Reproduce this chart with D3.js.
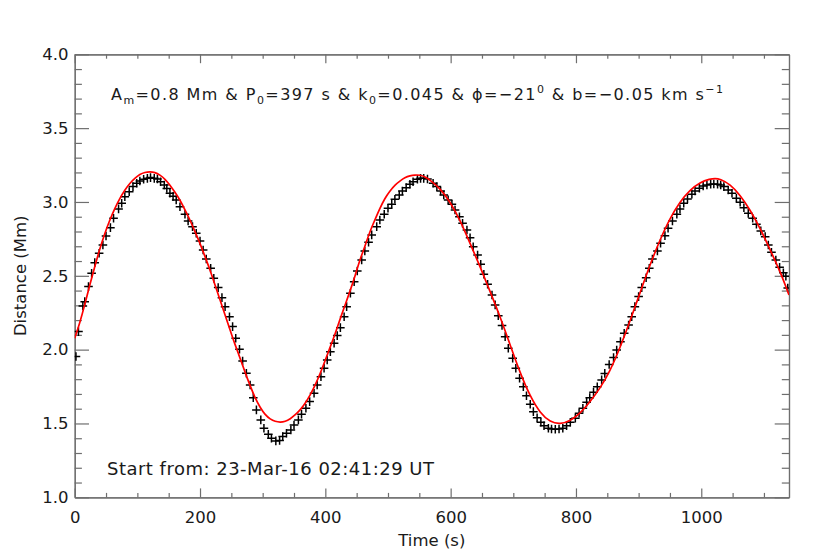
<!DOCTYPE html>
<html><head><meta charset="utf-8">
<script src="https://cdn.jsdelivr.net/npm/d3@7"></script>
<style>
body{margin:0;background:#fff}
svg{display:block}
text{font-family:"DejaVu Sans",sans-serif;fill:#1a1a1a}
</style>
</head><body>
<svg id="chart" width="830" height="553"></svg>
<script>
// ---- data ----
const time = [2,6,13,16,22,27,32,39,45,50,57,62,70,75,80,87,93,99,104,110,116,121,127,132,137,143,147,152,157,162,168,176,181,188,194,200,205,210,217,222,229,235,240,247,252,257,263,268,274,
280,285,290,297,302,309,314,321,327,332,338,345,350,357,362,369,375,382,387,393,398,403,408,414,419,424,430,434,440,446,451,458,463,469,474,482,487,494,500,506,511,518,523,529,535,540,547,552,557,563,
572,578,584,589,596,602,607,614,619,626,631,636,643,648,653,659,666,671,676,682,687,692,699,704,710,716,721,727,732,738,744,749,756,761,767,773,779,785,791,799,805,811,817,822,828,834,841,846,853,
860,865,871,877,884,889,894,900,905,912,917,922,930,935,942,947,954,961,966,972,978,985,990,997,1003,1009,1015,1020,1026,1031,1036,1043,1049,1056,1062,1068,1075,1082,1088,1095,1102,1107,1112,1119,1125,1131,1135,1138];
const distance = [1.953,2.122,2.296,2.325,2.427,2.517,2.589,2.653,2.709,2.770,2.826,2.890,2.953,2.991,3.036,3.070,3.104,3.127,3.142,3.154,3.160,3.165,3.160,3.156,3.137,3.115,3.092,3.059,3.038,3.014,2.968,2.917,2.871,2.833,2.788,2.736,2.675,2.614,2.551,2.483,2.420,2.352,2.291,2.223,2.156,2.077,2.003,1.923,1.840,
1.761,1.675,1.592,1.524,1.468,1.427,1.400,1.382,1.385,1.411,1.434,1.456,1.490,1.524,1.563,1.603,1.648,1.705,1.761,1.817,1.874,1.930,1.986,2.043,2.095,2.149,2.223,2.291,2.382,2.460,2.533,2.607,2.668,2.727,2.777,2.833,2.878,2.917,2.957,2.984,3.018,3.047,3.074,3.097,3.120,3.137,3.154,3.160,3.160,3.156,
3.127,3.104,3.074,3.047,3.014,2.984,2.946,2.900,2.856,2.810,2.758,2.697,2.641,2.578,2.510,2.443,2.370,2.303,2.230,2.163,2.088,2.009,1.942,1.874,1.806,1.749,1.688,1.630,1.580,1.539,1.508,1.485,1.468,1.463,1.461,1.463,1.468,1.485,1.508,1.536,1.570,1.603,1.644,1.675,1.712,1.749,1.795,1.839,1.899,
1.946,1.998,2.054,2.111,2.167,2.223,2.291,2.359,2.420,2.487,2.551,2.614,2.668,2.720,2.772,2.822,2.871,2.917,2.953,2.991,3.020,3.052,3.074,3.093,3.108,3.115,3.120,3.122,3.120,3.115,3.104,3.081,3.059,3.025,2.998,2.961,2.923,2.890,2.849,2.804,2.765,2.709,2.659,2.607,2.558,2.520,2.497,2.417];

const fitTime = [0,8,16,24,32,40,48,56,64,72,80,88,96,104,112,120,128,136,144,152,160,168,176,184,192,200,208,216,224,232,240,248,256,264,272,280,288,296,304,312,320,328,336,344,352,360,368,376,384,392,400,408,416,424,432,440,448,455,463,471,479,487,495,503,511,519,527,535,543,551,559,567,583,599,615,631,647,663,679,695,711,727,743,759,775,791,807,822,838,854,870,886,902,918,934,950,966,982,998,1014,1022,1030,1046,1062,1078,1094,1110,1126,1140];
const fitDistance = [2.077,2.179,2.303,2.438,2.562,2.682,2.788,2.878,2.957,3.025,3.081,3.127,3.160,3.188,3.201,3.205,3.201,3.183,3.156,3.115,3.066,3.014,2.946,2.878,2.799,2.720,2.630,2.540,2.438,2.336,2.235,2.133,2.032,1.942,1.845,1.755,1.671,1.607,1.558,1.529,1.513,1.508,1.513,1.531,1.558,1.592,1.637,1.693,1.761,1.840,1.930,2.020,2.111,2.213,2.307,2.404,2.506,2.607,2.697,2.799,2.878,2.957,3.025,3.074,3.115,3.142,3.165,3.178,3.183,3.183,3.171,3.149,3.093,3.002,2.878,2.720,2.562,2.393,2.223,2.032,1.840,1.682,1.569,1.508,1.495,1.517,1.569,1.644,1.735,1.851,2.009,2.190,2.382,2.573,2.743,2.890,3.002,3.081,3.133,3.156,3.160,3.156,3.120,3.047,2.946,2.822,2.675,2.528,2.370];

const xTicks = [0,200,400,600,800,1000];
const xMinorTicks = [50,100,150,250,300,350,450,500,550,650,700,750,850,900,950,1050,1100];
const yTicks = [1.0,1.5,2.0,2.5,3.0,3.5,4.0];
const yMinorTicks = [1.1,1.2,1.3,1.4,1.6,1.7,1.8,1.9,2.1,2.2,2.3,2.4,2.6,2.7,2.8,2.9,3.1,3.2,3.3,3.4,3.6,3.7,3.8,3.9];
const xDomain = [0,1140];
const yDomain = [1,4];
const xLabel = "Time (s)";
const yLabel = "Distance (Mm)";
const startLabel = "Start from: 23-Mar-16 02:41:29 UT";

// ---- layout ----
const L = 74.7, R = 789, T = 54.3, B = 497.3;
const svg = d3.select("#chart");
const x = d3.scaleLinear().domain(xDomain).range([L, R]);
const y = d3.scaleLinear().domain(yDomain).range([B, T]);
const axisColor = "#6e6e6e";
const xMaj = 8.9, xMin = 4.4, yMaj = 14.3, yMin = 7.2;

svg.append("defs").append("clipPath").attr("id","plotclip")
  .append("rect").attr("x",L).attr("y",T).attr("width",R-L).attr("height",B-T);

function styleAxis(g){
  g.selectAll("path.domain").attr("stroke",axisColor).attr("stroke-width",1.2);
  g.selectAll(".tick line").attr("stroke",axisColor).attr("stroke-width",1.2);
  g.selectAll(".tick text").attr("fill","#1a1a1a").style("font-size","16.5px").style("font-family","'DejaVu Sans',sans-serif");
}

// bottom
svg.append("g").attr("transform",`translate(0,${B})`)
  .call(d3.axisBottom(x).tickValues(xTicks).tickSizeInner(-xMaj).tickSizeOuter(0).tickPadding(13.5).tickFormat(d3.format("d"))).call(styleAxis);
svg.append("g").attr("transform",`translate(0,${B})`)
  .call(d3.axisBottom(x).tickValues(xMinorTicks).tickSizeInner(-xMin).tickSizeOuter(0).tickFormat("")).call(styleAxis);
// top
svg.append("g").attr("transform",`translate(0,${T})`)
  .call(d3.axisTop(x).tickValues(xTicks).tickSizeInner(-xMaj).tickSizeOuter(0).tickFormat("")).call(styleAxis);
svg.append("g").attr("transform",`translate(0,${T})`)
  .call(d3.axisTop(x).tickValues(xMinorTicks).tickSizeInner(-xMin).tickSizeOuter(0).tickFormat("")).call(styleAxis);
// left
svg.append("g").attr("transform",`translate(${L},0)`)
  .call(d3.axisLeft(y).tickValues(yTicks).tickSizeInner(-yMaj).tickSizeOuter(0).tickPadding(6.2).tickFormat(d3.format(".1f"))).call(styleAxis);
svg.append("g").attr("transform",`translate(${L},0)`)
  .call(d3.axisLeft(y).tickValues(yMinorTicks).tickSizeInner(-yMin).tickSizeOuter(0).tickFormat("")).call(styleAxis);
// right
svg.append("g").attr("transform",`translate(${R},0)`)
  .call(d3.axisRight(y).tickValues(yTicks).tickSizeInner(-yMaj).tickSizeOuter(0).tickFormat("")).call(styleAxis);
svg.append("g").attr("transform",`translate(${R},0)`)
  .call(d3.axisRight(y).tickValues(yMinorTicks).tickSizeInner(-yMin).tickSizeOuter(0).tickFormat("")).call(styleAxis);

// data crosses
const plot = svg.append("g").attr("clip-path","url(#plotclip)");
const arm = 4.3;
plot.append("g").selectAll("path").data(time.map((t,i)=>[t,distance[i]])).join("path")
  .attr("d", d => `M${x(d[0])-arm},${y(d[1])}H${x(d[0])+arm}M${x(d[0])},${y(d[1])-arm}V${y(d[1])+arm}`)
  .attr("stroke","#000").attr("stroke-width",1.5).attr("fill","none");

// fit line
const line = d3.line().x(d=>x(d[0])).y(d=>y(d[1])).curve(d3.curveBasis);
plot.append("path").datum(fitTime.map((t,i)=>[t,fitDistance[i]]))
  .attr("d", line).attr("fill","none").attr("stroke","#ff0000").attr("stroke-width",1.7);

// axis titles
svg.append("text").attr("x",(L+R)/2).attr("y",546).attr("text-anchor","middle")
  .style("font-size","16.5px").text(xLabel);
svg.append("text").attr("transform",`translate(26,${(T+B)/2}) rotate(-90)`).attr("text-anchor","middle")
  .style("font-size","16.5px").text(yLabel);

// annotation
const ann = svg.append("text").attr("x",111).attr("y",100).style("font-size","16px")
  .attr("textLength",612).attr("lengthAdjust","spacing").attr("xml:space","preserve");
const parts = [
  ["A",0],["m",1],["=0.8 Mm & P",0],["0",1],["=397 s & k",0],["0",1],
  ["=0.045 & \u03D5=\u221221",0],["0",2],[" & b=\u22120.05 km s",0],["\u22121",2]
];
let cur = 0;
parts.forEach(([s,k])=>{
  const target = k===1 ? 4 : (k===2 ? -7 : 0);
  ann.append("tspan").attr("dy", target-cur).style("font-size", k ? "11px" : "16px")
    .attr("xml:space","preserve").text(s);
  cur = target;
});

svg.append("text").attr("x",107).attr("y",475).style("font-size","18px")
  .attr("textLength",327).attr("lengthAdjust","spacing").text(startLabel);
</script>
</body></html>
